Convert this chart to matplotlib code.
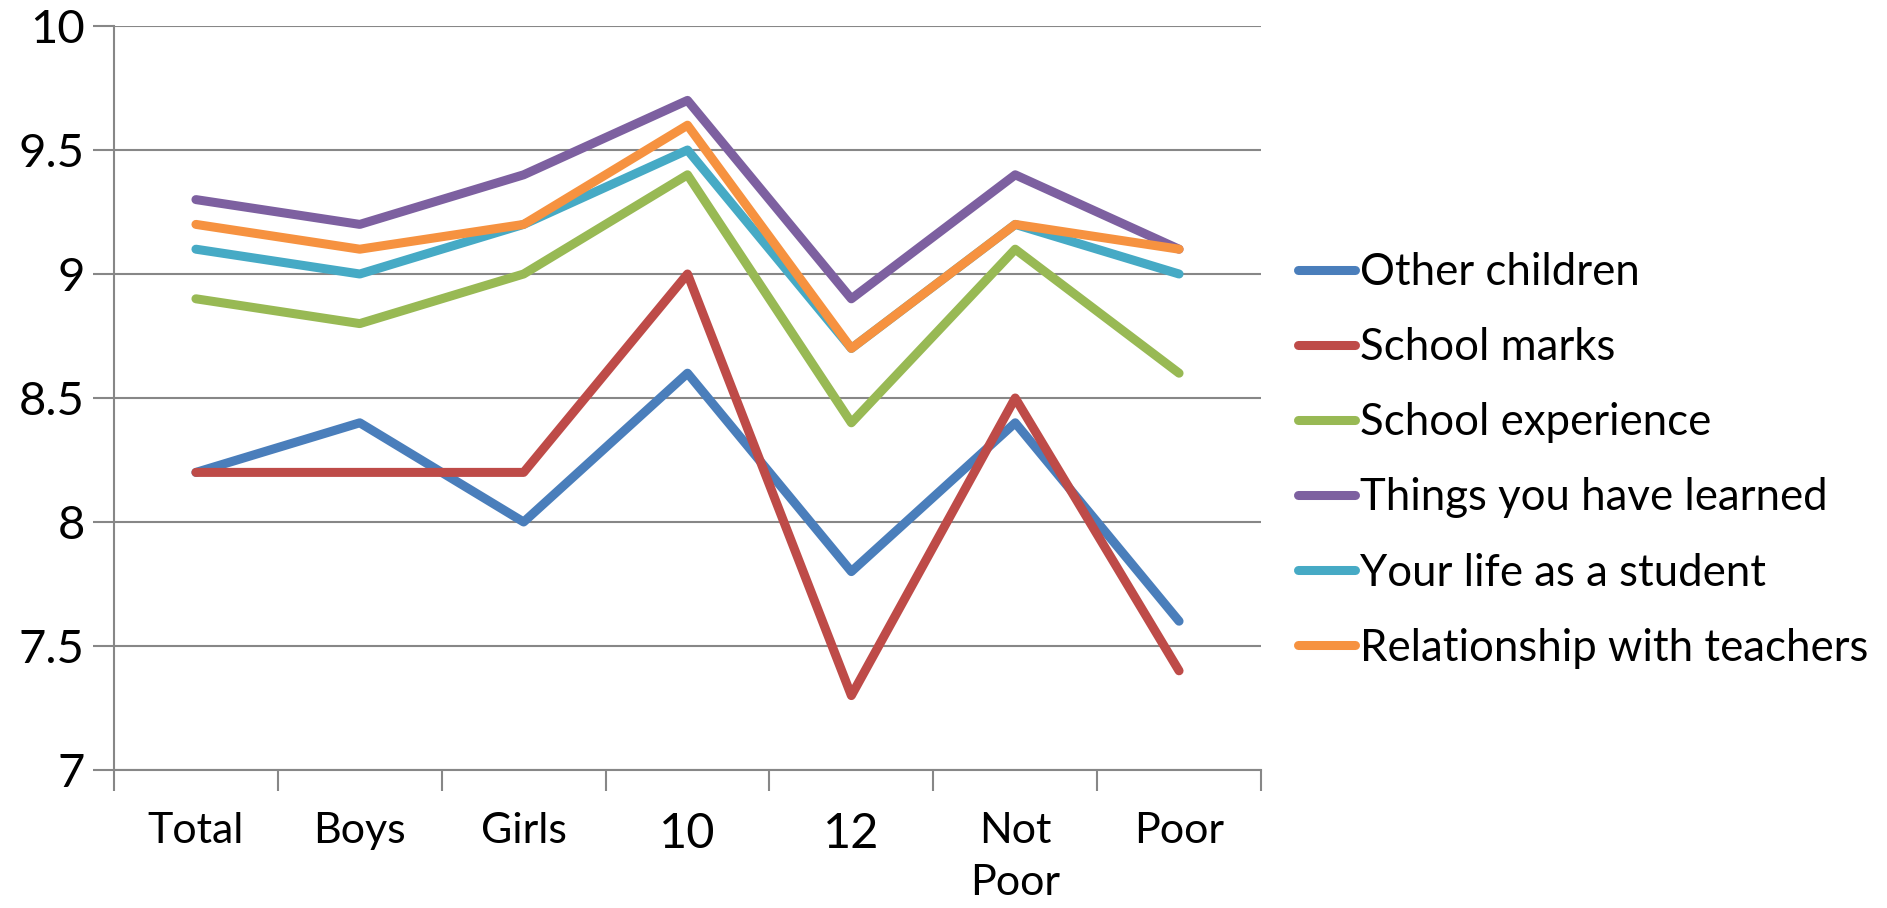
import matplotlib
matplotlib.use('Agg')
import matplotlib.pyplot as plt

plt.rcParams['font.family'] = ['Lato', 'DejaVu Sans']

categories = ['Total', 'Boys', 'Girls', '10', '12', 'Not\nPoor', 'Poor']
other_children = [8.2, 8.4, 8.0, 8.6, 7.8, 8.4, 7.6]
school_marks = [8.2, 8.2, 8.2, 9.0, 7.3, 8.5, 7.4]
school_experience = [8.9, 8.8, 9.0, 9.4, 8.4, 9.1, 8.6]
things_learned = [9.3, 9.2, 9.4, 9.7, 8.9, 9.4, 9.1]
life_student = [9.1, 9.0, 9.2, 9.5, 8.7, 9.2, 9.0]
rel_teachers = [9.2, 9.1, 9.2, 9.6, 8.7, 9.2, 9.1]

series = [
    ('Other children', other_children, '#4A7EBB'),
    ('School marks', school_marks, '#BE4B48'),
    ('School experience', school_experience, '#98B954'),
    ('Things you have learned', things_learned, '#7D60A0'),
    ('Your life as a student', life_student, '#46AAC5'),
    ('Relationship with teachers', rel_teachers, '#F69240'),
]

fig = plt.figure(figsize=(18.87, 9.08), dpi=100)
ax = fig.add_axes([114 / 1887, 1 - 770 / 908, (1261 - 114) / 1887, (770 - 26) / 908])

x = range(len(categories))
for name, vals, color in series:
    ax.plot(x, vals, color=color, lw=6.5, label=name,
            solid_capstyle='round', solid_joinstyle='round')

ax.set_xlim(-0.5, len(categories) - 0.5)
ax.set_ylim(7, 10)
ax.set_yticks([7, 7.5, 8, 8.5, 9, 9.5, 10])
ax.set_yticklabels(['7', '7.5', '8', '8.5', '9', '9.5', '10'])
ax.set_xticks(list(x))
ax.set_xticklabels(categories, linespacing=1.45)
ax.set_xticks([i - 0.5 for i in range(len(categories) + 1)], minor=True)
ax.tick_params(axis='x', which='major', length=0, pad=30, labelsize=31)
ax.tick_params(axis='x', which='minor', length=15, width=1.5, color='#878787')
ax.tick_params(axis='y', length=15, width=1.5, color='#878787', pad=6, labelsize=34)
for lab in ax.get_xticklabels():
    if lab.get_text().isdigit():
        lab.set_fontsize(35)
ax.grid(axis='y', color='#878787', lw=1.5)
ax.set_axisbelow(True)
for s in ['top', 'right']:
    ax.spines[s].set_visible(False)
for s in ['left', 'bottom']:
    ax.spines[s].set_color('#878787')
    ax.spines[s].set_linewidth(1.5)

fig.legend(loc='center left', bbox_to_anchor=(1298 / 1887, 0.493), frameon=False,
           fontsize=31.5, handlelength=1.3, handletextpad=0.12, labelspacing=0.78,
           borderaxespad=0, borderpad=0)

fig.savefig('out.png', dpi=100)
